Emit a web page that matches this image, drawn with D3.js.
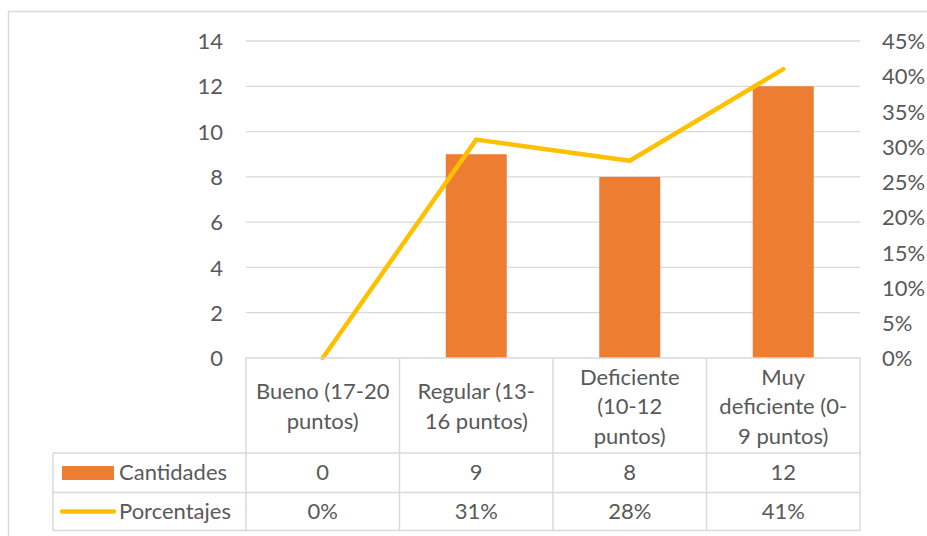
<!DOCTYPE html>
<html><head><meta charset="utf-8">
<script src="https://cdn.jsdelivr.net/npm/d3@7"></script>
<style>body{margin:0;background:#fff}svg{display:block}text{font-family:Lato,"Liberation Sans",sans-serif;fill:#595959}</style>
</head><body>
<svg id="c" width="927" height="536"></svg>
<script>
const categories = [["Bueno (17-20","puntos)"],["Regular (13-","16 puntos)"],["Deficiente","(10-12","puntos)"],["Muy","deficiente (0-","9 puntos)"]];
const cantidades = [0, 9, 8, 12];
const porcentajes = [0, 0.31, 0.28, 0.41];
const leftTicks = [0,2,4,6,8,10,12,14];
const rightTicks = [0,0.05,0.10,0.15,0.20,0.25,0.30,0.35,0.40,0.45];
const seriesNames = ["Cantidades","Porcentajes"];

const svg = d3.select("#c");
const FS = 22;
const gray = "#D9D9D9";
const L = 246, R = 860, T = 41, B = 358;
const x = d3.scaleBand().domain(d3.range(categories.length)).range([L, R]).paddingInner(0).paddingOuter(0);
const yL = d3.scaleLinear().domain([0,14]).range([B, T]);
const yR = d3.scaleLinear().domain([0,0.45]).range([B, T]);

// outer border
svg.append("rect").attr("x",8.5).attr("y",11.5).attr("width",940).attr("height",540)
  .attr("fill","none").attr("stroke",gray).attr("stroke-width",1.5);

// gridlines
svg.append("g").selectAll("line").data(leftTicks.filter(d=>d>0)).join("line")
  .attr("x1",L).attr("x2",R).attr("y1",d=>yL(d)).attr("y2",d=>yL(d))
  .attr("stroke",gray).attr("stroke-width",1.3);

// left axis labels
const ax = d3.axisLeft(yL).tickValues(leftTicks).tickSize(0).tickPadding(0);
const gL = svg.append("g").attr("transform",`translate(${L-23},0)`).call(ax);
gL.select(".domain").remove();
gL.selectAll("text").attr("font-size",FS).attr("font-family","Lato").attr("fill","#595959").attr("dy","0.35em");

// right axis labels
const axR = d3.axisRight(yR).tickValues(rightTicks).tickFormat(d3.format(".0%")).tickSize(0).tickPadding(0);
const gR = svg.append("g").attr("transform",`translate(${R+22},0)`).call(axR);
gR.select(".domain").remove();
gR.selectAll("text").attr("font-size",FS).attr("font-family","Lato").attr("fill","#595959").attr("dy","0.35em");

// bars
const bw = 61;
svg.append("g").selectAll("rect").data(cantidades).join("rect")
  .attr("x",(d,i)=>x(i)+x.bandwidth()/2-bw/2).attr("width",bw)
  .attr("y",d=>yL(d)).attr("height",d=>B-yL(d)).attr("fill","#ED7D31");

// line
const line = d3.line().x((d,i)=>x(i)+x.bandwidth()/2).y(d=>yR(d));
svg.append("path").datum(porcentajes).attr("d",line).attr("fill","none")
  .attr("stroke","#FFC000").attr("stroke-width",4.5).attr("stroke-linecap","round").attr("stroke-linejoin","round");

// data table
const tL = 53, h1 = 453, h2 = 492.5, h3 = 530.5;
const tg = svg.append("g").attr("stroke",gray).attr("stroke-width",1.5);
[B, h1, h2, h3].forEach((yy,i)=>{
  tg.append("line").attr("x1", i===0? L : tL).attr("x2",R).attr("y1",yy).attr("y2",yy);
});
d3.range(categories.length+1).forEach(i=>{
  const xx = i<categories.length ? x(i) : R;
  tg.append("line").attr("x1",xx).attr("x2",xx).attr("y1",B).attr("y2",h3);
});
tg.append("line").attr("x1",tL).attr("x2",tL).attr("y1",h1).attr("y2",h3);

// header text
const lh = 29.5;
categories.forEach((lines,i)=>{
  const cx = x(i)+x.bandwidth()/2, cy = (B+h1)/2 + 1;
  const t = svg.append("text").attr("text-anchor","middle").attr("font-size",FS);
  lines.forEach((s,j)=>{
    t.append("tspan").attr("x",cx).attr("y",cy + (j-(lines.length-1)/2)*lh).attr("dy","0.35em").text(s);
  });
});

// row values
const rows = [cantidades.map(String), porcentajes.map(d3.format(".0%"))];
const rowY = [(h1+h2)/2, (h2+h3)/2];
rows.forEach((r,ri)=>{
  svg.append("g").selectAll("text").data(r).join("text")
    .attr("x",(d,i)=>x(i)+x.bandwidth()/2).attr("y",rowY[ri]).attr("dy","0.35em")
    .attr("text-anchor","middle").attr("font-size",FS).text(d=>d);
});

// legend keys
svg.append("rect").attr("x",62).attr("y",466).attr("width",52).attr("height",14).attr("fill","#ED7D31");
svg.append("line").attr("x1",62).attr("x2",114).attr("y1",rowY[1]).attr("y2",rowY[1])
  .attr("stroke","#FFC000").attr("stroke-width",4.5).attr("stroke-linecap","round");
seriesNames.forEach((s,i)=>{
  svg.append("text").attr("x",119).attr("y",rowY[i]).attr("dy","0.35em").attr("font-size",FS).text(s);
});
</script>
</body></html>
